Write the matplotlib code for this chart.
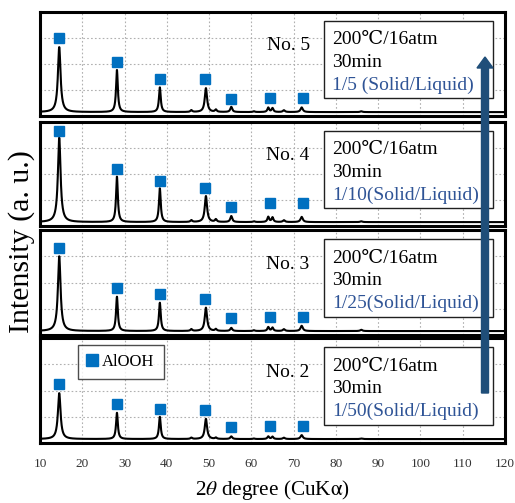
import matplotlib
matplotlib.use("Agg")
import matplotlib.pyplot as plt
from matplotlib.patches import Rectangle, FancyArrow
from matplotlib.lines import Line2D
import numpy as np

plt.rcParams['font.family'] = ['Liberation Serif', 'DejaVu Serif']
plt.rcParams['mathtext.fontset'] = 'stix'

# samples, top to bottom
samples = ["No. 5", "No. 4", "No. 3", "No. 2"]
ratios = ["1/5 (Solid/Liquid)", "1/10(Solid/Liquid)", "1/25(Solid/Liquid)", "1/50(Solid/Liquid)"]
condition = "200\u2103/16atm"
duration = "30min"

# peak positions (2theta) and apparent peak tops (panel units, 0..4)
peak_pos = [14.55, 28.2, 38.35, 45.8, 49.25, 51.6, 55.25, 60.6, 64.0, 65.0, 67.7, 71.9, 86.0]
peak_fwhm = [0.75, 0.5, 0.5, 0.5, 0.65, 0.5, 0.55, 0.5, 0.5, 0.5, 0.6, 0.65, 0.6]
peak_tops = [
    [2.65, 1.77, 1.10, 0.22, 1.07, 0.24, 0.35, 0.18, 0.32, 0.30, 0.22, 0.33, 0.18],
    [3.40, 1.90, 1.45, 0.22, 1.15, 0.25, 0.38, 0.18, 0.35, 0.33, 0.22, 0.35, 0.18],
    [3.00, 1.46, 1.23, 0.22, 1.04, 0.22, 0.27, 0.18, 0.30, 0.28, 0.22, 0.35, 0.20],
    [1.90, 1.15, 1.00, 0.20, 0.92, 0.20, 0.25, 0.17, 0.25, 0.24, 0.20, 0.30, 0.17],
]
baseline = [0.15, 0.15, 0.15, 0.15]

# AlOOH markers
mark_x = [14.4, 28.3, 38.3, 49.1, 55.3, 64.5, 72.1]
mark_y = [
    [3.00, 2.08, 1.42, 1.42, 0.65, 0.70, 0.70],
    [3.65, 2.20, 1.75, 1.45, 0.72, 0.88, 0.88],
    [3.30, 1.80, 1.58, 1.38, 0.65, 0.69, 0.69],
    [2.25, 1.50, 1.30, 1.27, 0.60, 0.64, 0.64],
]

xticks = list(range(10, 121, 10))

# panel extents in pixels (top, bottom)
panels_px = [(12, 116), (122, 226), (230, 335), (338, 443)]
W, H = 515, 503
blue_txt = "#2f5496"
mark_col = "#0070c0"

fig = plt.figure(figsize=(W / 100, H / 100), dpi=100)
tt = np.linspace(10, 120, 4000)

axes = []
for i, (top, bot) in enumerate(panels_px):
    ax = fig.add_axes([40 / W, 1 - bot / H, 465 / W, (bot - top) / H])
    axes.append(ax)
    y = np.full_like(tt, baseline[i])
    for p, w, h in zip(peak_pos, peak_fwhm, peak_tops[i]):
        g = (w / 2) ** 2
        y = y + (h - baseline[i]) * g / ((tt - p) ** 2 + g)
    ax.plot(tt, y, color="black", lw=1.5, zorder=3)
    ax.plot(mark_x, mark_y[i], ls="none", marker="s", ms=7, color=mark_col, zorder=4)
    ax.set_xlim(10, 120)
    ax.set_ylim(0, 4)
    ax.set_xticks(xticks)
    ax.set_yticks([1, 2, 3])
    ax.grid(True, ls=(0, (1.5, 2)), color="#b0b0b0", lw=0.8)
    ax.tick_params(length=0, labelleft=False)
    if i < 3:
        ax.tick_params(labelbottom=False)
    else:
        ax.tick_params(axis="x", labelsize=9.5, labelcolor="#333333", pad=11)
    for s in ax.spines.values():
        s.set_linewidth(2.2)
        s.set_zorder(5)

    ax.add_patch(Rectangle((0.611, 0.17), 0.363, 0.74, transform=ax.transAxes,
                           facecolor="white", edgecolor="#202020", lw=1.0, zorder=6))
    ax.text(0.628, 0.69, condition, transform=ax.transAxes, fontsize=14, va="baseline", zorder=7)
    ax.text(0.628, 0.475, duration, transform=ax.transAxes, fontsize=14, va="baseline", zorder=7)
    ax.text(0.628, 0.255, ratios[i], transform=ax.transAxes, fontsize=14, va="baseline",
            color=blue_txt, zorder=7)
    ax.text(0.58, 0.63, samples[i], transform=ax.transAxes, fontsize=14, va="baseline",
            ha="right", zorder=7)

# legend in bottom panel
h = Line2D([], [], ls="none", marker="s", ms=8.5, color=mark_col)
leg = axes[3].legend([h], ["AlOOH"], loc="upper left", bbox_to_anchor=(0.082, 0.935),
                     fontsize=12, frameon=True, fancybox=False, handlelength=0.6,
                     handletextpad=0.3, borderpad=0.55, borderaxespad=0)
leg.get_frame().set_edgecolor("#202020")
leg.get_frame().set_linewidth(1.0)
leg.set_zorder(8)

fig.text(22 / W, 1 - 242 / H, "Intensity (a. u.)", rotation=90, fontsize=21.5,
         ha="center", va="center")
fig.text(272 / W, 1 - 490 / H, r"2$\theta$ degree (CuK$\mathrm{\alpha}$)", fontsize=15.3,
         ha="center", va="center")

arrow = FancyArrow(485 / W, 1 - 393 / H, 0, (393 - 57) / H, width=7 / W,
                   head_width=16 / W, head_length=11 / H, length_includes_head=True,
                   color="#1f4e79", transform=fig.transFigure, zorder=20)
fig.add_artist(arrow)

fig.savefig("out.png", dpi=100)
